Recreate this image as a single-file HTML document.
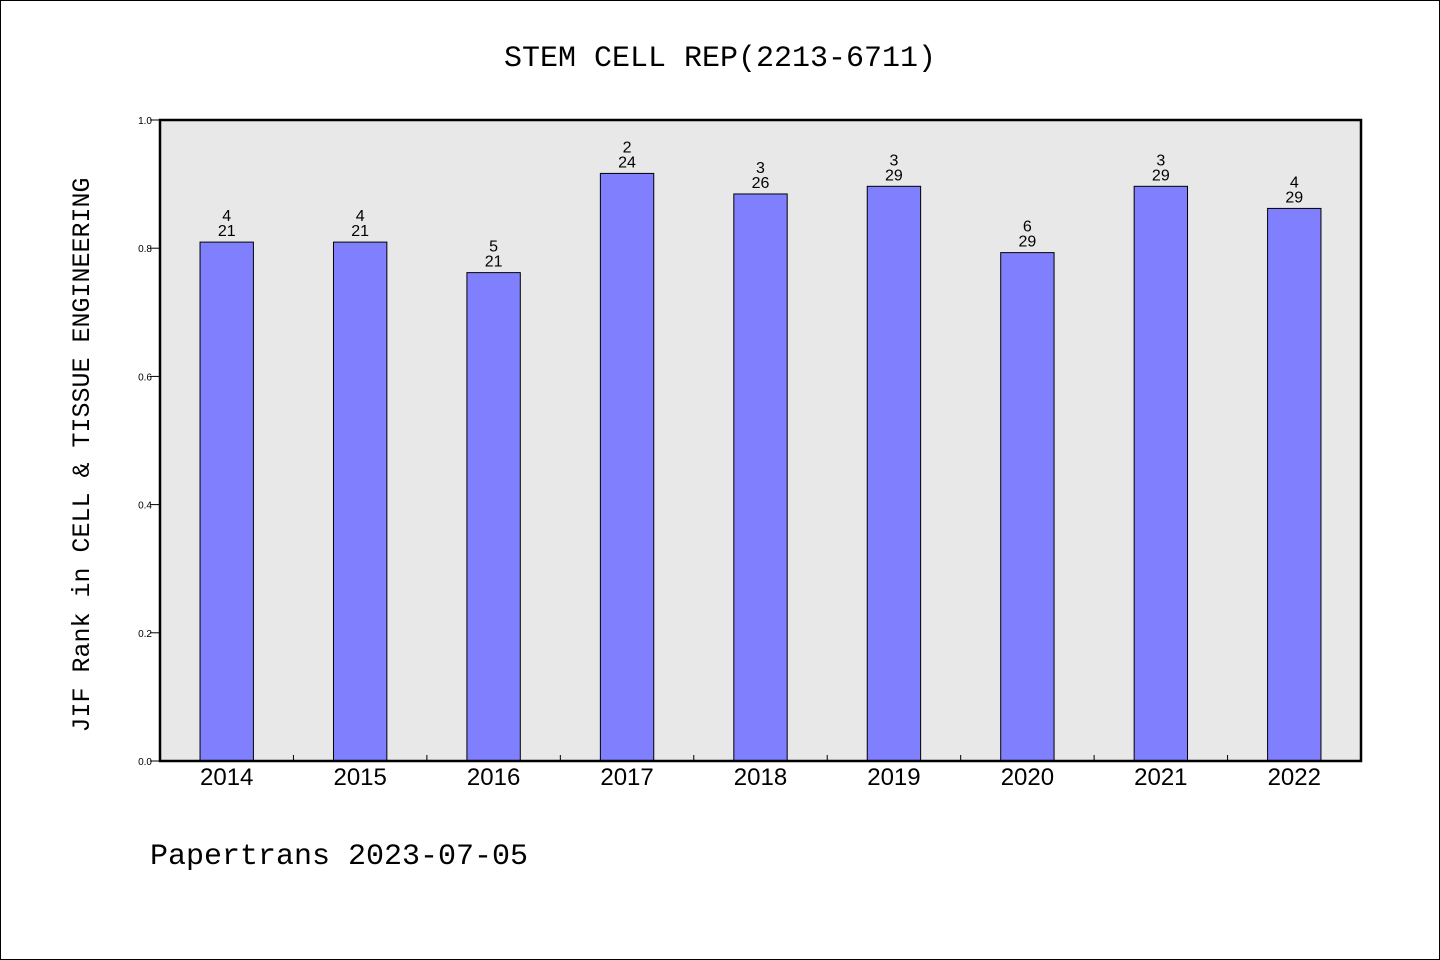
<!DOCTYPE html>
<html><head><meta charset="utf-8"><style>
body{margin:0;background:#fff}
svg{display:block}
</style></head><body>
<svg id="c" width="1440" height="960" xmlns="http://www.w3.org/2000/svg">
<rect x="0.5" y="0.5" width="1439" height="959" fill="#fff" stroke="#000"/>
<text x="720" y="66" text-anchor="middle" font-family="Liberation Mono, monospace" font-size="30">STEM CELL REP(2213-6711)</text>
<rect x="160" y="120" width="1201" height="641" fill="#e8e8e8"/>
<g id="marks"></g>
<rect x="160" y="120" width="1201" height="641" fill="none" stroke="#000" stroke-width="2.5"/>
<text transform="translate(89,455) rotate(-90)" text-anchor="middle" font-family="Liberation Mono, monospace" font-size="25">JIF Rank in CELL &amp; TISSUE ENGINEERING</text>
<text x="150" y="864" font-family="Liberation Mono, monospace" font-size="30">Papertrans 2023-07-05</text>
</svg>
<script>
const years = ['2014','2015','2016','2017','2018','2019','2020','2021','2022'];
const ranks = [4,4,5,2,3,3,6,3,4];
const totals = [21,21,21,24,26,29,29,29,29];
const yTicks = [0,0.2,0.4,0.6,0.8,1.0];
const yTickLabels = ['0.0','0.2','0.4','0.6','0.8','1.0'];
const L=160,R=1361,T=120,B=761;
const ns='http://www.w3.org/2000/svg';
const g=document.getElementById('marks');
const band=(R-L)/years.length;
const xC=i=>L+band*(i+0.5);
const y=v=>B-(B-T)*v;
function mk(t,a,txt){const e=document.createElementNS(ns,t);for(const k in a)e.setAttribute(k,a[k]);if(txt!==undefined)e.textContent=txt;g.appendChild(e);return e;}
yTicks.forEach((v,i)=>{
  const t=mk('line',{x1:L-10,x2:L,y1:y(v),y2:y(v),stroke:'#000'});
  
  
  const l=mk('text',{x:L-8,y:y(v)+4,'text-anchor':'end','font-family':'Liberation Sans, sans-serif','font-size':'10'},yTickLabels[i]);
  
  
});
for(let i=1;i<years.length;i++){
  const t=mk('line',{x1:L+band*i,x2:L+band*i,y1:B-6,y2:B,stroke:'#000'});
  
  
}
years.forEach((yr,i)=>{
  const v=1-ranks[i]/totals[i];
  const w=band*0.4;
  const b=mk('rect',{x:xC(i)-w/2,y:y(v),width:w,height:B-y(v),fill:'#8080ff',stroke:'#000','stroke-width':'1'});
  
  
  const r=mk('text',{x:xC(i),y:y(v)-21,'text-anchor':'middle','font-family':'Liberation Sans, sans-serif','font-size':'16'},ranks[i]);
  
  
  const tt=mk('text',{x:xC(i),y:y(v)-6,'text-anchor':'middle','font-family':'Liberation Sans, sans-serif','font-size':'16'},totals[i]);
  
  
  const xl=mk('text',{x:xC(i),y:B+24,'text-anchor':'middle','font-family':'Liberation Sans, sans-serif','font-size':'24'},yr);
  
  
});
</script>
</body></html>
